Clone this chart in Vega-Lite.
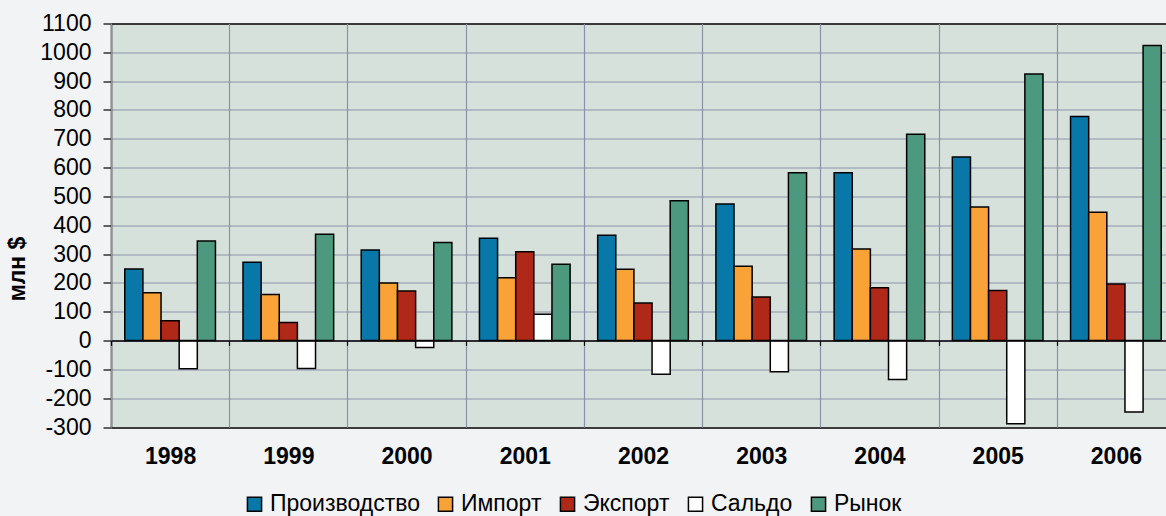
{
  "$schema": "https://vega.github.io/schema/vega-lite/v6.json",
  "width": 1064,
  "height": 403.5,
  "autosize": "none",
  "padding": {"left": 111, "top": 23.5, "right": 0, "bottom": 89},
  "background": "#f2f3f5",
  "data": {"values": [
    {"year": "1998", "series": "Производство", "value": 248},
    {"year": "1998", "series": "Импорт", "value": 166},
    {"year": "1998", "series": "Экспорт", "value": 69},
    {"year": "1998", "series": "Сальдо", "value": -98},
    {"year": "1998", "series": "Рынок", "value": 345},
    {"year": "1999", "series": "Производство", "value": 272},
    {"year": "1999", "series": "Импорт", "value": 160},
    {"year": "1999", "series": "Экспорт", "value": 63},
    {"year": "1999", "series": "Сальдо", "value": -97},
    {"year": "1999", "series": "Рынок", "value": 369},
    {"year": "2000", "series": "Производство", "value": 314},
    {"year": "2000", "series": "Импорт", "value": 200},
    {"year": "2000", "series": "Экспорт", "value": 172},
    {"year": "2000", "series": "Сальдо", "value": -24},
    {"year": "2000", "series": "Рынок", "value": 340},
    {"year": "2001", "series": "Производство", "value": 355},
    {"year": "2001", "series": "Импорт", "value": 218},
    {"year": "2001", "series": "Экспорт", "value": 308},
    {"year": "2001", "series": "Сальдо", "value": 91},
    {"year": "2001", "series": "Рынок", "value": 265},
    {"year": "2002", "series": "Производство", "value": 365},
    {"year": "2002", "series": "Импорт", "value": 247},
    {"year": "2002", "series": "Экспорт", "value": 130},
    {"year": "2002", "series": "Сальдо", "value": -117},
    {"year": "2002", "series": "Рынок", "value": 485},
    {"year": "2003", "series": "Производство", "value": 474},
    {"year": "2003", "series": "Импорт", "value": 258},
    {"year": "2003", "series": "Экспорт", "value": 151},
    {"year": "2003", "series": "Сальдо", "value": -108},
    {"year": "2003", "series": "Рынок", "value": 582},
    {"year": "2004", "series": "Производство", "value": 582},
    {"year": "2004", "series": "Импорт", "value": 318},
    {"year": "2004", "series": "Экспорт", "value": 183},
    {"year": "2004", "series": "Сальдо", "value": -135},
    {"year": "2004", "series": "Рынок", "value": 716},
    {"year": "2005", "series": "Производство", "value": 637},
    {"year": "2005", "series": "Импорт", "value": 463},
    {"year": "2005", "series": "Экспорт", "value": 174},
    {"year": "2005", "series": "Сальдо", "value": -289},
    {"year": "2005", "series": "Рынок", "value": 925},
    {"year": "2006", "series": "Производство", "value": 777},
    {"year": "2006", "series": "Импорт", "value": 445},
    {"year": "2006", "series": "Экспорт", "value": 196},
    {"year": "2006", "series": "Сальдо", "value": -248},
    {"year": "2006", "series": "Рынок", "value": 1024}
  ]},
  "mark": {"type": "bar", "stroke": "black", "strokeWidth": 1.5},
  "encoding": {
    "x": {
      "field": "year", "type": "nominal",
      "scale": {"paddingInner": 0, "paddingOuter": 0},
      "axis": {
        "title": null, "labelAngle": 0,
        "labelFont": "Liberation Sans", "labelFontSize": 23, "labelFontWeight": "bold", "labelColor": "black",
        "offset": -86.5, "domainColor": "black", "domainWidth": 1.5,
        "tickColor": "black", "tickSize": 5, "tickWidth": 1.2, "tickBand": "extent",
        "labelPadding": 100,
        "grid": true, "gridColor": "#8b92a8", "gridWidth": 1.2,
        "zindex": 1
      }
    },
    "xOffset": {
      "field": "series", "type": "nominal",
      "sort": ["Производство", "Импорт", "Экспорт", "Сальдо", "Рынок"],
      "scale": {"paddingInner": 0, "paddingOuter": 0.76}
    },
    "y": {
      "field": "value", "type": "quantitative",
      "scale": {"domain": [-300, 1100], "nice": false, "zero": false},
      "axis": {
        "values": [-300, -200, -100, 0, 100, 200, 300, 400, 500, 600, 700, 800, 900, 1000, 1100],
        "labelExpr": "'' + datum.value",
        "title": "млн $", "titleFont": "Liberation Sans", "titleFontSize": 23, "titleFontWeight": "bold", "titleColor": "black",
        "titleY": 245, "titleX": -87, "titleAngle": -90, "titleAlign": "center", "titleBaseline": "alphabetic",
        "labelFont": "Liberation Sans", "labelFontSize": 23, "labelColor": "black", "labelPadding": 12,
        "tickSize": 8, "tickColor": "black", "tickWidth": 1.2,
        "domainColor": "black", "domainWidth": 1.5,
        "grid": true,
        "gridColor": {"condition": {"test": "datum.value === 1100 || datum.value === -300", "value": "black"}, "value": "#8b92a8"},
        "gridWidth": {"condition": {"test": "datum.value === 1100 || datum.value === -300", "value": 1.6}, "value": 1.2}
      }
    },
    "color": {
      "field": "series", "type": "nominal",
      "sort": ["Производство", "Импорт", "Экспорт", "Сальдо", "Рынок"],
      "scale": {
        "domain": ["Производство", "Импорт", "Экспорт", "Сальдо", "Рынок"],
        "range": ["#0878a8", "#f8a238", "#b02818", "#ffffff", "#4d9980"]
      },
      "legend": {
        "title": null, "orient": "none", "legendX": 132, "legendY": 469, "direction": "horizontal",
        "symbolType": "square", "symbolSize": 200, "symbolStrokeColor": "black", "symbolStrokeWidth": 1.5,
        "labelFont": "Liberation Sans", "labelFontSize": 23, "labelColor": "black",
        "columnPadding": 14, "labelOffset": 4
      }
    }
  },
  "config": {"view": {"fill": "#d7e1dc", "stroke": null}}
}
